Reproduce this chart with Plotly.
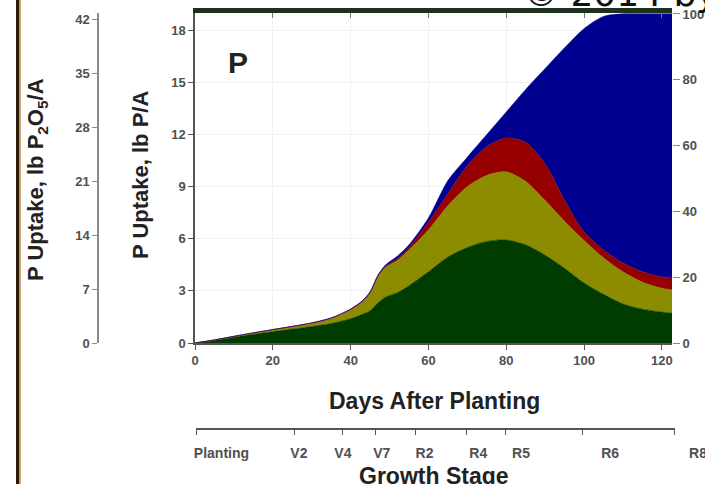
import plotly.graph_objects as go

# ---- data ----
days = [0, 5, 10, 15, 20, 25, 30, 35, 40, 43, 45, 47, 49, 52, 55, 60, 65, 70,
        75, 80, 85, 90, 95, 100, 105, 110, 115, 120, 122.6]
# cumulative tops of each band, lb P/A
green_top = [0, 0.15, 0.33, 0.5, 0.65, 0.8, 0.95, 1.12, 1.4, 1.65, 1.85, 2.3, 2.65, 2.9,
             3.3, 4.1, 4.95, 5.5, 5.85, 5.93, 5.65, 5.05, 4.3, 3.45, 2.8, 2.25, 1.95, 1.78, 1.72]
olive_top = [0, 0.17, 0.37, 0.56, 0.75, 0.93, 1.12, 1.4, 1.9, 2.35, 2.85, 3.8, 4.35, 4.75,
             5.35, 6.5, 7.9, 9.0, 9.65, 9.85, 9.3, 8.2, 7.0, 5.9, 4.9, 4.1, 3.5, 3.15, 3.05]
red_top = [0, 0.18, 0.38, 0.58, 0.77, 0.95, 1.15, 1.43, 1.94, 2.4, 2.9, 3.85, 4.42, 4.85,
           5.5, 6.95, 8.6, 10.2, 11.3, 11.8, 11.55, 10.3, 8.2, 6.4, 5.35, 4.6, 4.1, 3.8, 3.74]
total_top = [0, 0.18, 0.39, 0.59, 0.78, 0.96, 1.16, 1.45, 1.96, 2.43, 2.95, 3.9, 4.5, 5.0,
             5.65, 7.2, 9.35, 10.7, 12.0, 13.3, 14.6, 15.8, 17.0, 18.1, 18.8, 18.95, 18.95, 18.95, 18.95]

x_ticks = [0, 20, 40, 60, 80, 100, 120]
p_ticks = [0, 3, 6, 9, 12, 15, 18]
p2o5_ticks = [0, 7, 14, 21, 28, 35, 42]
pct_ticks = [0, 20, 40, 60, 80, 100]

stage_tick_days = [0.3, 25.7, 38, 46.5, 56.6, 69.7, 79.7, 99.5, 123.3]
stage_label_days = [6.8, 26.7, 38, 48, 59, 72.8, 83.8, 106.7, 129.3]
stage_labels = ["Planting", "V2", "V4", "V7", "R2", "R4", "R5", "R6", "R8"]

colors = ["#003c00", "#8c8c00", "#960000", "#000090"]

# ---- geometry (pixels) ----
W, H = 705, 484
ML, MR, MT, MB = 60, 0, 13, 20
PW, PH = W - ML - MR, H - MT - MB


def px(xp):
    return (xp - ML) / PW


def py(yp):
    return (H - MB - yp) / PH


DAY_PX = (672 - 195) / 122.6   # pixels per day on the main axis

fig = go.Figure()
tops = [green_top, olive_top, red_top, total_top]
for i, (top, c) in enumerate(zip(tops, colors)):
    fig.add_trace(go.Scatter(
        x=days, y=top, mode="lines",
        line=dict(color=c, width=0.6, shape="spline", smoothing=0.8),
        fill="tozeroy" if i == 0 else "tonexty", fillcolor=c,
        hoverinfo="skip", showlegend=False))

tickfont = dict(family="Liberation Sans, Arial", size=13, color="#505050")
xdom = [px(195), px(672)]
ydom = [py(343), 1]
# growth-stage axis: line from px 196 to 675, same day scale as main axis
st_dom = [px(196), px(675)]
st_rng = [(196 - 195) / DAY_PX, (675 - 195) / DAY_PX]
# growth-stage label axis: full width to right edge
lb_dom = [px(195), 1]
lb_rng = [0, (W - 195) / DAY_PX]

fig.update_layout(
    width=W, height=H, margin=dict(l=ML, r=MR, t=MT, b=MB, autoexpand=False),
    paper_bgcolor="white", plot_bgcolor="rgba(0,0,0,0)", showlegend=False,
    xaxis=dict(domain=xdom, range=[0, 122.6], tickvals=x_ticks,
               ticktext=[f"<b>{v}</b>" for v in x_ticks], tickfont=tickfont,
               showline=True, linecolor="#555555", linewidth=1.5,
               ticks="outside", ticklen=5, tickcolor="#555555", automargin=False,
               showgrid=True, gridcolor="#f1f1f1", zeroline=False, anchor="y"),
    xaxis4=dict(domain=xdom, range=[0, 122.6], overlaying="x", side="top", anchor="y",
                tickvals=x_ticks, showticklabels=False, ticks="inside", ticklen=5,
                tickcolor="#777777", showline=True, linecolor="#1c321c", linewidth=5,
                showgrid=False, zeroline=False, automargin=False),
    yaxis=dict(domain=ydom, range=[0, 19.0], tickvals=p_ticks,
               ticktext=[f"<b>{v}</b>" for v in p_ticks], tickfont=tickfont,
               showline=True, linecolor="#555555", linewidth=1.5,
               ticks="outside", ticklen=5, tickcolor="#555555", automargin=False,
               showgrid=True, gridcolor="#f1f1f1", zeroline=False, anchor="x"),
    yaxis2=dict(domain=ydom, range=[0, 42.9], overlaying="y", anchor="free",
                position=px(98), side="left", tickvals=p2o5_ticks,
                ticktext=[f"<b>{v}</b>" for v in p2o5_ticks], tickfont=tickfont,
                showline=True, linecolor="#8a8a8a", linewidth=1.5,
                ticks="outside", ticklen=5, tickcolor="#8a8a8a", automargin=False,
                showgrid=False, zeroline=False),
    yaxis3=dict(domain=ydom, range=[0, 100.3], overlaying="y", anchor="x", side="right",
                tickvals=pct_ticks, ticktext=[f"<b>{v}</b>" for v in pct_ticks],
                tickfont=tickfont, showline=False, ticks="outside", ticklen=7,
                tickcolor="#888888", showgrid=False, zeroline=False, automargin=False),
    # invisible helper y axis for the growth-stage axes
    yaxis4=dict(domain=[0, 0.02], range=[0, 1], visible=False, anchor="free", position=0,
                showgrid=False, zeroline=False),
    xaxis2=dict(domain=st_dom, range=st_rng, anchor="free",
                position=py(429), tickvals=stage_tick_days,
                showticklabels=False, ticks="outside", ticklen=5, tickcolor="#555555",
                showline=True, linecolor="#555555", linewidth=1.5, automargin=False,
                showgrid=False, zeroline=False),
    xaxis3=dict(domain=lb_dom, range=lb_rng, anchor="free", position=py(443),
                tickvals=stage_label_days,
                ticktext=[f"<b>{s}</b>" for s in stage_labels],
                tickfont=dict(family="Liberation Sans, Arial", size=14, color="#505050"),
                ticklabeloverflow="allow",
                ticks="", showline=False, showgrid=False, zeroline=False, automargin=False),
)

# dummy traces so the extra axes render
fig.add_trace(go.Scatter(x=[None], y=[None], xaxis="x4", yaxis="y", showlegend=False))
fig.add_trace(go.Scatter(x=[None], y=[None], xaxis="x", yaxis="y2", showlegend=False))
fig.add_trace(go.Scatter(x=[None], y=[None], xaxis="x", yaxis="y3", showlegend=False))
fig.add_trace(go.Scatter(x=[None], y=[None], xaxis="x2", yaxis="y4", showlegend=False))
fig.add_trace(go.Scatter(x=[None], y=[None], xaxis="x3", yaxis="y4", showlegend=False))

title_font = dict(family="Liberation Sans, Arial", color="#222222")
ann = [
    dict(x=px(37), y=py(180), text="<b>P Uptake, lb P<sub>2</sub>O<sub>5</sub>/A</b>",
         textangle=-90, font=dict(size=22, **title_font)),
    dict(x=px(140), y=py(175), text="<b>P Uptake, lb P/A</b>", textangle=-90,
         font=dict(size=22, **title_font)),
    dict(x=px(434), y=py(401), text="<b>Days After Planting</b>", font=dict(size=23, **title_font)),
    dict(x=px(434), y=py(476), text="<b>Growth Stage</b>", font=dict(size=23, **title_font)),
    dict(x=px(238), y=py(62), text="<b>P</b>", font=dict(size=30, **title_font)),
    dict(x=px(521), y=py(16), text="© 2014 by IPNI", xanchor="left", yanchor="bottom",
         font=dict(size=36, family="DejaVu Sans", color="#111111")),
]
for a in ann:
    a.update(xref="paper", yref="paper", showarrow=False)
    a.setdefault("xanchor", "center")
    a.setdefault("yanchor", "middle")
fig.update_layout(annotations=ann)

fig.update_layout(shapes=[
    dict(type="rect", xref="paper", yref="paper", x0=px(16), x1=px(19.5), y0=py(0), y1=py(484),
         fillcolor="#2a1a0a", line=dict(width=0), layer="above"),
    dict(type="rect", xref="paper", yref="paper", x0=px(19.5), x1=px(21), y0=py(0), y1=py(484),
         fillcolor="#c9a577", line=dict(width=0), layer="above"),
])

fig.write_html("out.html")
